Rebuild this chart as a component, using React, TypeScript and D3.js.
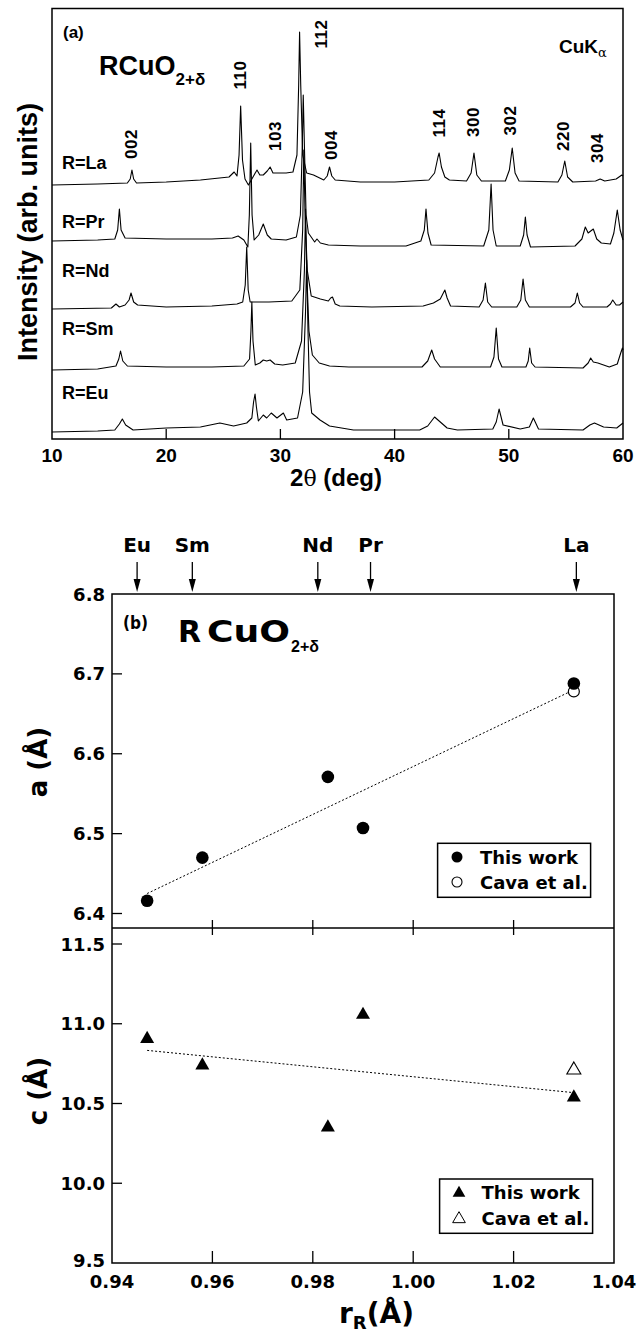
import React from "react";
import * as d3 from "d3";

// ---------------- Panel (a) data ----------------
const TWO_THETA_TICKS = [10, 20, 30, 40, 50, 60];
const TWO_THETA_INNER_TICKS = [20, 30, 40, 50];
const SAMPLE_LABELS = ["R=La", "R=Pr", "R=Nd", "R=Sm", "R=Eu"];
const SAMPLE_OFFSETS = [254, 194, 129, 68, 7];
const SAMPLE_LABEL_LEVELS = [270, 211, 162, 104, 40];

const traceLa: [number, number][] = [
  [10, 0], [14, 1], [16.6, 2], [16.85, 6], [17.0, 15], [17.15, 6], [17.4, 2], [20, 3], [23, 5], [25.5, 8],
  [25.95, 13], [26.2, 9], [26.38, 30], [26.52, 79], [26.68, 25], [26.9, 6], [27.2, 0], [27.6, 8], [27.95, 15],
  [28.2, 10], [28.5, 10], [28.85, 14], [29.1, 18], [29.35, 12], [29.7, 12], [30.5, 12], [31.1, 13], [31.45, 30],
  [31.6, 100], [31.68, 153], [31.78, 100], [31.95, 30], [32.3, 12], [32.9, 10], [33.8, 5], [34.1, 9], [34.3, 18],
  [34.5, 9], [34.8, 5], [37, 3], [40, 3], [43.0, 5], [43.5, 12], [43.8, 28], [43.9, 32], [44.1, 18], [44.4, 8],
  [44.8, 5], [46.3, 4], [46.7, 12], [46.95, 32], [47.2, 10], [47.6, 4], [49.7, 4], [50.05, 15], [50.3, 37],
  [50.55, 12], [50.9, 4], [54.3, 3], [54.65, 10], [54.9, 24], [55.15, 8], [55.6, 3], [57.6, 4], [58.0, 6],
  [58.4, 4], [59.4, 6], [59.9, 10], [60, 9],
];

const tracePr: [number, number][] = [
  [10, 4], [14, 5], [15.5, 6], [15.75, 15], [15.9, 36], [16.05, 15], [16.4, 7], [20, 6], [24, 6], [25.8, 7],
  [26.3, 9], [26.8, 5], [27.15, -2], [27.28, 30], [27.4, 102], [27.52, 30], [27.7, 5], [28.1, 10], [28.5, 21],
  [28.85, 10], [29.2, 6], [30.5, 5], [31.4, 8], [31.75, 30], [31.92, 100], [32.0, 150], [32.1, 100], [32.25, 30],
  [32.45, 12], [33.0, 3], [33.2, 6], [33.5, 2], [34.2, 0], [37, -1], [41, -1], [42.3, 4], [42.6, 15], [42.75, 36],
  [42.92, 12], [43.2, 0], [47.8, -1], [48.25, 15], [48.45, 61], [48.62, 15], [48.9, -1], [51.0, -1], [51.3, 10],
  [51.45, 28], [51.6, 10], [51.9, -2], [55.8, -1], [56.4, 6], [56.7, 18], [56.95, 12], [57.4, 16], [57.7, 6],
  [58.1, 2], [58.9, 1], [59.2, 12], [59.5, 35], [59.75, 15], [60, 5],
];

const traceNd: [number, number][] = [
  [10, 1], [15.2, 2], [15.6, 6], [15.9, 3], [16.4, 5], [16.75, 10], [16.92, 17], [17.15, 8], [17.5, 5], [20, 3],
  [24, 4], [26.2, 6], [26.7, 8], [26.92, 25], [27.05, 63], [27.18, 20], [27.35, 8], [29, 8], [31, 9], [31.7, 20],
  [31.95, 80], [32.05, 160], [32.15, 100], [32.35, 40], [32.7, 14], [33.5, 11], [34.2, 9], [34.4, 12],
  [34.56, 13], [34.8, 6], [35.2, 4], [38, 3], [42.5, 4], [43.4, 7], [44.0, 11], [44.4, 20], [44.6, 12], [44.9, 4],
  [47.4, 3], [47.75, 10], [47.95, 27], [48.15, 8], [48.5, 3], [50.7, 3], [51.05, 10], [51.25, 31], [51.45, 10],
  [51.8, 3], [55.4, 3], [55.8, 7], [56.0, 17], [56.2, 7], [56.5, 3], [58.6, 3], [58.9, 6], [59.1, 10], [59.4, 5],
  [59.7, 5], [60, 8],
];

const traceSm: [number, number][] = [
  [10, 1], [14, 2], [15.6, 5], [15.85, 12], [16.0, 20], [16.2, 10], [16.6, 5], [20, 4], [24, 4], [26.8, 5],
  [27.3, 12], [27.42, 40], [27.5, 69], [27.6, 30], [27.8, 6], [28.2, 8], [28.5, 11], [28.8, 10], [29.1, 11],
  [29.5, 7], [30.2, 6], [31.3, 8], [31.85, 30], [32.1, 100], [32.2, 162], [32.3, 100], [32.5, 40], [32.8, 16],
  [33.4, 8], [34.3, 5], [36, 4], [42.4, 4], [42.9, 10], [43.25, 21], [43.5, 12], [44.0, 4], [48.4, 4], [48.7, 14],
  [48.9, 43], [49.1, 12], [49.4, 4], [51.5, 4], [51.7, 10], [51.83, 23], [52.0, 8], [52.3, 4], [56.5, 3],
  [56.95, 8], [57.17, 13], [57.4, 9], [57.8, 8], [58.8, 4], [59.5, 7], [59.8, 18], [59.95, 23], [60, 21],
];

const traceEu: [number, number][] = [
  [10, 0], [14, 1], [15.5, 2], [15.9, 8], [16.16, 13], [16.45, 7], [17.1, 2], [20, 4], [23, 5], [24.7, 9],
  [25.9, 6], [27.05, 9], [27.5, 14], [27.65, 30], [27.78, 38], [27.9, 25], [28.07, 11], [28.5, 17], [28.8, 14],
  [29.2, 19], [29.7, 14], [30.26, 19], [30.55, 12], [31.5, 14], [31.95, 40], [32.2, 120], [32.3, 172],
  [32.42, 100], [32.55, 40], [32.74, 19], [33.47, 12], [34.3, 6], [36.4, 2], [42.2, 2], [42.9, 6], [43.5, 15],
  [44.0, 10], [44.6, 4], [45.5, 2], [48.6, 3], [48.9, 10], [49.15, 23], [49.5, 7], [51, 3], [51.8, 5],
  [52.15, 14], [52.6, 3], [56.5, 2], [57.1, 7], [57.5, 9], [58.3, 5], [59.45, 4], [60, 9],
];

const TRACES = [traceLa, tracePr, traceNd, traceSm, traceEu];

const HKL_LABELS = ["002", "110", "103", "112", "004", "114", "300", "302", "220", "304"];
const HKL_TWO_THETA = [16.98, 26.52, 29.53, 33.62, 34.49, 43.91, 46.95, 50.19, 54.77, 57.78];
const HKL_LEVEL = [295, 364, 303, 405, 294, 316, 317, 318.5, 303, 291];

// ---------------- Panel (b) data ----------------
const ELEMENTS = ["Eu", "Sm", "Nd", "Pr", "La"];
const R_IONIC = [0.947, 0.958, 0.983, 0.99, 1.032];
const ARROW_R = [0.945, 0.956, 0.981, 0.9915, 1.0325];
const A_THIS_WORK = [6.416, 6.47, 6.571, 6.507, 6.688];
const C_THIS_WORK = [10.905, 10.739, 10.35, 11.056, 10.538];
const CAVA_R = [1.032];
const A_CAVA = [6.678];
const C_CAVA = [10.71];
const FIT_A: [number, number][] = [[0.947, 6.425], [1.032, 6.68]];
const FIT_C: [number, number][] = [[0.947, 10.833], [1.032, 10.568]];
const A_TICKS = [6.4, 6.5, 6.6, 6.7, 6.8];
const C_TICKS = [9.5, 10.0, 10.5, 11.0, 11.5];
const R_TICKS = [0.94, 0.96, 0.98, 1.0, 1.02, 1.04];

const SANS_A = "'Liberation Sans', Arial, sans-serif";
const SANS_B = "'DejaVu Sans', sans-serif";

export default function App() {
  // panel (a) scales
  const x2t = d3.scaleLinear().domain([10, 60]).range([52, 623]);
  const yI = d3.scaleLinear().domain([0, 430]).range([439, 9]);
  const aTop = 8.5, aBottom = 439;

  // panel (b) scales
  const xR = d3.scaleLinear().domain([0.94, 1.04]).range([112, 614]);
  const yA = d3.scaleLinear().domain([6.4, 6.8]).range([913.5, 594]);
  const yC = d3.scaleLinear().domain([9.5, 11.5]).range([1263, 944]);
  const bTop = yA(6.8), bBottom = yC(9.5), bDiv = 928;
  const bLeft = xR(0.94), bRight = xR(1.04);

  const triBig = d3.symbol().type(d3.symbolTriangle).size(85)()!;
  const triSmall = d3.symbol().type(d3.symbolTriangle).size(70)()!;

  return (
    <svg width={638} height={1337} style={{ position: "absolute", left: 0, top: 0, background: "#fff" }}
      fontWeight="bold">
      <rect x={0} y={0} width={638} height={1337} fill="#fff" />
      {/* ---------- Panel (a) ---------- */}
      <g fontFamily={SANS_A}>
        {TRACES.map((tr, i) => {
          const line = d3.line<[number, number]>()
            .x((d) => x2t(d[0]))
            .y((d) => yI(d[1] + SAMPLE_OFFSETS[i]));
          return <path key={i} d={line(tr)!} fill="none" stroke="#000" strokeWidth={1.1} strokeLinejoin="round" />;
        })}
        {SAMPLE_LABELS.map((s, i) => (
          <text key={s} x={x2t(10.88)} y={yI(SAMPLE_LABEL_LEVELS[i])} fontSize={18}>{s}</text>
        ))}
        {HKL_LABELS.map((h, i) => (
          <text key={h} transform={`translate(${x2t(HKL_TWO_THETA[i])},${yI(HKL_LEVEL[i])}) rotate(-90)`}
            textAnchor="middle" dominantBaseline="central" fontSize={17} letterSpacing={0.5}>{h}</text>
        ))}
        <rect x={x2t(10)} y={aTop} width={x2t(60) - x2t(10)} height={aBottom - aTop} fill="none" stroke="#000" strokeWidth={1.5} />
        {TWO_THETA_INNER_TICKS.map((t) => (
          <line key={t} x1={x2t(t)} x2={x2t(t)} y1={aBottom} y2={aBottom - 10} stroke="#000" strokeWidth={1.3} />
        ))}
        {TWO_THETA_TICKS.map((t) => (
          <text key={t} x={x2t(t)} y={462} textAnchor="middle" fontSize={19}>{t}</text>
        ))}
        <text x={336} y={486} textAnchor="middle" fontSize={24}>
          2<tspan fontWeight="normal" fontFamily="'DejaVu Serif', serif" fontSize={22}>θ</tspan> (deg)
        </text>
        <text transform="translate(37,232) rotate(-90)" textAnchor="middle" fontSize={27}>Intensity (arb. units)</text>
        <text x={63} y={38} fontSize={17}>(a)</text>
        <text x={99} y={75} fontSize={27}>RCuO<tspan fontSize={17} dy={10}>2+δ</tspan></text>
        <text x={559} y={53} fontSize={19}>CuK<tspan fontSize={13} dy={4} fontWeight="normal" fontFamily="'DejaVu Serif', serif">α</tspan></text>
      </g>

      {/* ---------- Panel (b) ---------- */}
      <g fontFamily={SANS_B}>
        {/* element arrows */}
        {ELEMENTS.map((el, i) => {
          const x = xR(ARROW_R[i]);
          return (
            <g key={el}>
              <text x={x} y={552} textAnchor="middle" fontSize={20}>{el}</text>
              <line x1={x} x2={x} y1={562} y2={582} stroke="#000" strokeWidth={1.3} />
              <path d={`M${x - 3.5},${579} L${x + 3.5},${579} L${x},${592} Z`} fill="#000" />
            </g>
          );
        })}
        {/* frame */}
        <rect x={bLeft} y={bTop} width={bRight - bLeft} height={bBottom - bTop} fill="none" stroke="#000" strokeWidth={1.5} />
        <line x1={bLeft} x2={bRight} y1={bDiv} y2={bDiv} stroke="#000" strokeWidth={1.5} />
        {/* a ticks */}
        {A_TICKS.map((t) => (
          <g key={"a" + t}>
            {t < 6.8 && <line x1={bLeft} x2={bLeft + 10} y1={yA(t)} y2={yA(t)} stroke="#000" strokeWidth={1.3} />}
            <text x={105} y={yA(t)} textAnchor="end" dominantBaseline="central" fontSize={18}>{t.toFixed(1)}</text>
          </g>
        ))}
        {C_TICKS.map((t) => (
          <g key={"c" + t}>
            {t > 9.5 && <line x1={bLeft} x2={bLeft + 10} y1={yC(t)} y2={yC(t)} stroke="#000" strokeWidth={1.3} />}
            <text x={105} y={t === 9.5 ? yC(t) - 3 : yC(t)} textAnchor="end" dominantBaseline="central" fontSize={18}>{t.toFixed(1)}</text>
          </g>
        ))}
        {R_TICKS.map((t, i) => (
          <g key={"r" + t}>
            {i > 0 && i < R_TICKS.length - 1 && (
              <>
                <line x1={xR(t)} x2={xR(t)} y1={bBottom} y2={bBottom - 12} stroke="#000" strokeWidth={1.3} />
                <line x1={xR(t)} x2={xR(t)} y1={bDiv - 8} y2={bDiv + 7} stroke="#000" strokeWidth={1.3} />
              </>
            )}
            <text x={xR(t)} y={1288} textAnchor="middle" fontSize={18}>{t.toFixed(2)}</text>
          </g>
        ))}
        {/* axis titles */}
        <text transform="translate(47,762) rotate(-90)" textAnchor="middle" fontSize={26}>a (Å)</text>
        <text transform="translate(47,1091) rotate(-90)" textAnchor="middle" fontSize={26}>c (Å)</text>
        <text x={339} y={1323} fontSize={28}>r<tspan fontSize={18} dy={6}>R</tspan><tspan dy={-6}>(Å)</tspan></text>
        <text x={123} y={629} fontSize={18} textLength={25} lengthAdjust="spacingAndGlyphs">(b)</text>
        <text x={178} y={642} fontSize={30}>R</text>
        <text x={207} y={642} fontSize={30} textLength={83} lengthAdjust="spacingAndGlyphs">CuO</text>
        <text x={291} y={652} fontSize={16} fontFamily={SANS_A}>2+δ</text>

        {/* fits */}
        <line x1={xR(FIT_A[0][0])} y1={yA(FIT_A[0][1])} x2={xR(FIT_A[1][0])} y2={yA(FIT_A[1][1])}
          stroke="#000" strokeWidth={1} strokeDasharray="2,2" />
        <line x1={xR(FIT_C[0][0])} y1={yC(FIT_C[0][1])} x2={xR(FIT_C[1][0])} y2={yC(FIT_C[1][1])}
          stroke="#000" strokeWidth={1} strokeDasharray="2,2" />

        {/* Cava points */}
        {CAVA_R.map((r, i) => (
          <g key={"cava" + i}>
            <circle cx={xR(r)} cy={yA(A_CAVA[i])} r={5.5} fill="#fff" stroke="#000" strokeWidth={1.2} />
            <path d={triBig} transform={`translate(${xR(r)},${yC(C_CAVA[i])})`} fill="#fff" stroke="#000" strokeWidth={1.1} />
          </g>
        ))}
        {/* This work */}
        {R_IONIC.map((r, i) => (
          <g key={"tw" + i}>
            <circle cx={xR(r)} cy={yA(A_THIS_WORK[i])} r={6.3} fill="#000" />
            <path d={triBig} transform={`translate(${xR(r)},${yC(C_THIS_WORK[i])})`} fill="#000" />
          </g>
        ))}

        {/* legends */}
        <rect x={437.6} y={843.3} width={153} height={54} fill="#fff" stroke="#000" strokeWidth={1.5} />
        <circle cx={457} cy={857} r={5.5} fill="#000" />
        <text x={480} y={857} dominantBaseline="central" fontSize={18}>This work</text>
        <circle cx={457} cy={882} r={5} fill="#fff" stroke="#000" strokeWidth={1.1} />
        <text x={480} y={882} dominantBaseline="central" fontSize={18}>Cava et al.</text>

        <rect x={439.6} y={1179} width={153} height={54.3} fill="#fff" stroke="#000" strokeWidth={1.5} />
        <path d={triSmall} transform="translate(459,1193)" fill="#000" />
        <text x={481.6} y={1192.5} dominantBaseline="central" fontSize={18}>This work</text>
        <path d={triSmall} transform="translate(459,1219)" fill="#fff" stroke="#000" strokeWidth={1} />
        <text x={481.6} y={1218.5} dominantBaseline="central" fontSize={18}>Cava et al.</text>
      </g>
    </svg>
  );
}
